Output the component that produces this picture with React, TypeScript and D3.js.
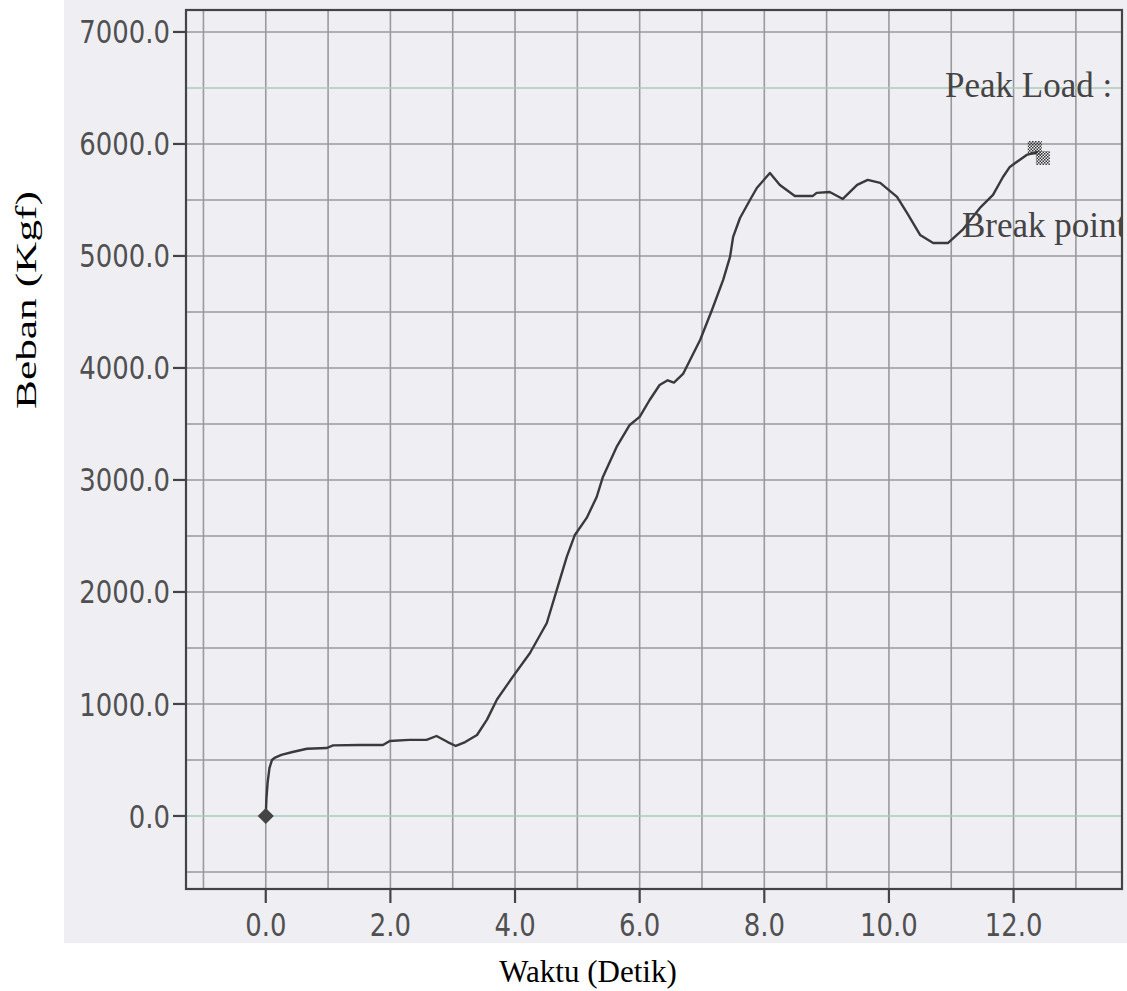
import React from 'react';
import * as d3 from 'd3';

// Data (time in seconds, load in kgf)
const timeSec = [
  0, 0.01, 0.03, 0.06, 0.1, 0.14, 0.25, 0.43, 0.66, 0.98, 1.08, 1.5, 1.88, 1.99, 2.3, 2.58,
  2.74, 2.92, 3.05, 3.2, 3.39, 3.55, 3.71, 3.96, 4.24, 4.51, 4.67, 4.83, 4.96, 5.15, 5.31,
  5.41, 5.63, 5.84, 6.0, 6.16, 6.32, 6.45, 6.55, 6.7, 6.97, 7.16, 7.34, 7.45, 7.5, 7.61,
  7.77, 7.88, 8.09, 8.25, 8.49, 8.78, 8.84, 9.05, 9.26, 9.49, 9.66, 9.86, 10.13, 10.29,
  10.5, 10.71, 10.95, 11.18, 11.46, 11.67, 11.83, 11.94, 12.21, 12.39,
];
const loadKgf = [
  0, 150, 300, 430, 500, 518, 545, 571, 600, 607, 630, 634, 634, 670, 679, 679,
  714, 660, 625, 660, 723, 860, 1040, 1240, 1455, 1723, 2018, 2313, 2509, 2661, 2848,
  3027, 3295, 3491, 3563, 3714, 3848, 3890, 3870, 3950, 4250, 4518, 4786, 4991, 5170, 5339,
  5500, 5607, 5741, 5634, 5536, 5536, 5563, 5571, 5509, 5634, 5679, 5652, 5527, 5384,
  5188, 5116, 5116, 5232, 5429, 5545, 5705, 5795, 5902, 5930,
];

const xTickValues = [0, 2, 4, 6, 8, 10, 12];
const yTickValues = [0, 1000, 2000, 3000, 4000, 5000, 6000, 7000];
const xGridValues = [-1, 0, 1, 2, 3, 4, 5, 6, 7, 8, 9, 10, 11, 12, 13];
const yGridValues = [-500, 0, 500, 1000, 1500, 2000, 2500, 3000, 3500, 4000, 4500, 5000, 5500, 6000, 6500, 7000];
const greenGridValues = [0, 6500];
const peakLoadPoint = [12.34, 5964];
const breakPointPoint = [12.47, 5875];

export default function App() {
  const W = 1127;
  const H = 991;
  const left = 186, right = 1122, top = 10, bottom = 889;

  const x = d3.scaleLinear().domain([-1.28, 13.74]).range([left, right]);
  const y = d3.scaleLinear().domain([-652, 7196]).range([bottom, top]);

  const pts: [number, number][] = timeSec.map((t, i) => [t, loadKgf[i]]);
  const line = d3.line<[number, number]>().x(d => x(d[0])).y(d => y(d[1]));

  const tickFont = '"Liberation Sans Narrow", "Arial Narrow", "DejaVu Sans Condensed", sans-serif';
  const serif = '"Liberation Serif", "Times New Roman", serif';

  return (
    <svg width={W} height={H} style={{ position: 'absolute', left: 0, top: 0, background: '#ffffff' }}>
      <defs>
        <pattern id="chk" width="3" height="3" patternUnits="userSpaceOnUse">
          <rect x="0" y="0" width="1.5" height="1.5" fill="#333" />
          <rect x="1.5" y="1.5" width="1.5" height="1.5" fill="#333" />
        </pattern>
        <clipPath id="plotClip">
          <rect x={left} y={top} width={right - left} height={bottom - top} />
        </clipPath>
      </defs>
      <rect x={64} y={0} width={W - 64} height={943} fill="#efeef3" />

      {/* grid */}
      {xGridValues.map(v => (
        <line key={'gx' + v} x1={x(v)} x2={x(v)} y1={top} y2={bottom} stroke="#9a9a9e" strokeWidth={1.6} />
      ))}
      {yGridValues.map(v => (
        <line key={'gy' + v} x1={left} x2={right} y1={y(v)} y2={y(v)}
          stroke={greenGridValues.includes(v) ? '#a6cdb6' : '#9a9a9e'} strokeWidth={1.6} />
      ))}

      {/* frame */}
      <rect x={left} y={top} width={right - left} height={bottom - top} fill="none" stroke="#444" strokeWidth={2.2} />

      {/* y ticks */}
      {yTickValues.map(v => (
        <g key={'yt' + v}>
          <line x1={left - 13} x2={left} y1={y(v)} y2={y(v)} stroke="#444" strokeWidth={2.2} />
          <text transform={`translate(170,${y(v)}) scale(0.9,1)`} dy="0.36em" textAnchor="end"
            fontFamily={tickFont} fontSize={32} fill="#505050">
            {v.toFixed(1)}
          </text>
        </g>
      ))}
      {/* x ticks */}
      {xTickValues.map(v => (
        <g key={'xt' + v}>
          <line x1={x(v)} x2={x(v)} y1={bottom} y2={bottom + 14} stroke="#444" strokeWidth={2.2} />
          <text transform={`translate(${x(v)},936) scale(0.9,1)`} textAnchor="middle"
            fontFamily={tickFont} fontSize={32} fill="#505050">
            {v.toFixed(1)}
          </text>
        </g>
      ))}

      {/* curve */}
      <path d={line(pts) || ''} fill="none" stroke="#3a3a3a" strokeWidth={2.4} strokeLinejoin="round" />

      {/* start marker */}
      <path d={d3.symbol(d3.symbolSquare, 130)() || ''} transform={`translate(${x(0)},${y(0)}) rotate(45)`} fill="#444" />

      {/* peak / break markers */}
      <rect x={x(peakLoadPoint[0]) - 7} y={y(peakLoadPoint[1]) - 7} width={14} height={14} fill="url(#chk)" />
      <rect x={x(breakPointPoint[0]) - 7} y={y(breakPointPoint[1]) - 7} width={14} height={14} fill="url(#chk)" />

      {/* annotations */}
      <g clipPath="url(#plotClip)">
        <text x={945} y={97} fontFamily={serif} fontSize={35} fill="#444">Peak Load :</text>
        <text x={962} y={237} fontFamily={serif} fontSize={35} fill="#444">Break point</text>
      </g>

      {/* axis titles */}
      <text x={588} y={982} textAnchor="middle" fontFamily={serif} fontSize={31} fill="#000">Waktu (Detik)</text>
      <text transform="translate(36,300) rotate(-90)" textAnchor="middle" fontFamily={serif} fontSize={29}
        textLength={218} lengthAdjust="spacingAndGlyphs" fill="#000">Beban (Kgf)</text>
    </svg>
  );
}
